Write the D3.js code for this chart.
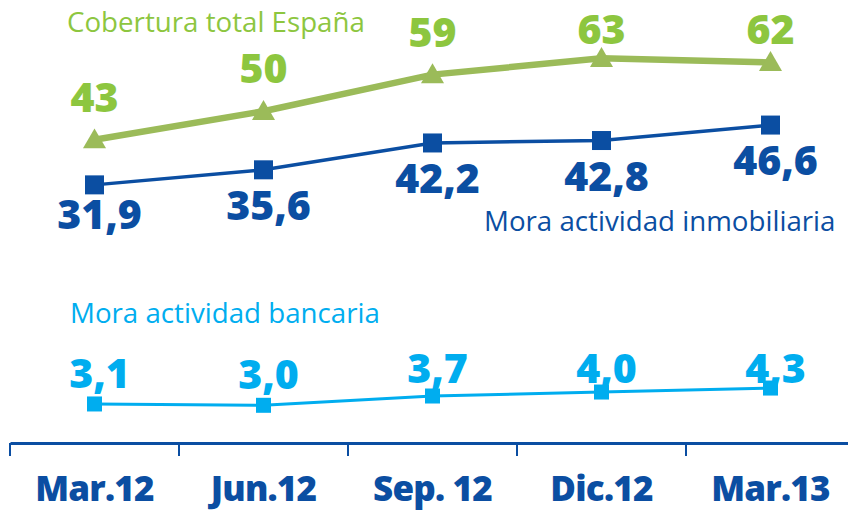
<!DOCTYPE html>
<html>
<head>
<meta charset="utf-8">
<script src="https://cdn.jsdelivr.net/npm/d3@7"></script>
<style>
  body { margin: 0; background: #fff; }
  svg text { font-family: "Open Sans", "Noto Sans", sans-serif; }
</style>
</head>
<body>
<svg id="chart" width="848" height="510"></svg>
<script>
const periods = ["Mar.12", "Jun.12", "Sep. 12", "Dic.12", "Mar.13"];
const cobertura = [43, 50, 59, 63, 62];
const moraInmob = [31.9, 35.6, 42.2, 42.8, 46.6];
const moraBanc = [3.1, 3.0, 3.7, 4.0, 4.3];

const GREEN_LINE = "#9bbb59";
const GREEN_TEXT = "#8dc63f";
const DARK_BLUE = "#0b4ea2";
const LIGHT_BLUE = "#00adef";

const fmt = v => d3.format(".1f")(v).replace(".", ",");

const svg = d3.select("#chart");

const x = d3.scaleBand().domain(periods).range([10, 855]);
const cx = d => x(d) + x.bandwidth() / 2;

// top block: cobertura and mora inmobiliaria share one scale
const yTop = d3.scaleLinear().domain([30, 65]).range([192.6, 50.2]);
// bottom block: mora actividad bancaria
const yBot = d3.scaleLinear().domain([3, 4.5]).range([405.3, 385.4]);

// axis
const axisY = 443;
const axis = svg.append("g").attr("transform", `translate(0,${axisY})`)
  .call(d3.axisBottom(x).tickSize(0).tickFormat(""));
axis.select(".domain").attr("stroke", DARK_BLUE).attr("stroke-width", 3);
svg.append("g").selectAll("line")
  .data(periods)
  .join("line")
  .attr("x1", d => x(d)).attr("x2", d => x(d))
  .attr("y1", axisY).attr("y2", axisY + 13)
  .attr("stroke", DARK_BLUE).attr("stroke-width", 2);

svg.append("g").selectAll("text")
  .data(periods)
  .join("text")
  .attr("x", cx)
  .attr("y", 501)
  .attr("text-anchor", "middle")
  .attr("fill", DARK_BLUE)
  .attr("font-size", 35)
  .attr("font-weight", 800)
  .attr("letter-spacing", -0.8)
  .text(d => d);

const line = y => d3.line().x((d, i) => cx(periods[i])).y(d => y(d));

// cobertura total
svg.append("path").datum(cobertura)
  .attr("d", line(yTop))
  .attr("fill", "none").attr("stroke", GREEN_LINE).attr("stroke-width", 6.5);
svg.append("g").selectAll("path")
  .data(cobertura)
  .join("path")
  .attr("d", d3.symbol(d3.symbolTriangle, 230))
  .attr("transform", (d, i) => `translate(${cx(periods[i])},${yTop(d) + 2})`)
  .attr("fill", GREEN_LINE);
svg.append("g").selectAll("text")
  .data(cobertura)
  .join("text")
  .attr("x", (d, i) => cx(periods[i]))
  .attr("y", d => Math.max(yTop(d) - 28, 44))
  .attr("text-anchor", "middle")
  .attr("fill", GREEN_TEXT)
  .attr("font-size", 41)
  .attr("font-weight", 800)
  .text(d => d);

// mora actividad inmobiliaria
svg.append("path").datum(moraInmob)
  .attr("d", line(yTop))
  .attr("fill", "none").attr("stroke", DARK_BLUE).attr("stroke-width", 3.5);
svg.append("g").selectAll("rect")
  .data(moraInmob)
  .join("rect")
  .attr("x", (d, i) => cx(periods[i]) - 9.5)
  .attr("y", d => yTop(d) - 9.5)
  .attr("width", 19).attr("height", 19)
  .attr("fill", DARK_BLUE);
svg.append("g").selectAll("text")
  .data(moraInmob)
  .join("text")
  .attr("x", (d, i) => cx(periods[i]) + 5)
  .attr("y", d => Math.min(yTop(d) + 50, 229))
  .attr("text-anchor", "middle")
  .attr("fill", DARK_BLUE)
  .attr("font-size", 41)
  .attr("font-weight", 800)
  .text(fmt);

// mora actividad bancaria
svg.append("path").datum(moraBanc)
  .attr("d", line(yBot))
  .attr("fill", "none").attr("stroke", LIGHT_BLUE).attr("stroke-width", 3);
svg.append("g").selectAll("rect")
  .data(moraBanc)
  .join("rect")
  .attr("x", (d, i) => cx(periods[i]) - 7.5)
  .attr("y", d => yBot(d) - 7.5)
  .attr("width", 15).attr("height", 15)
  .attr("fill", LIGHT_BLUE);
svg.append("g").selectAll("text")
  .data(moraBanc)
  .join("text")
  .attr("x", (d, i) => cx(periods[i]) + 5)
  .attr("y", d => Math.max(yBot(d) - 16, 383))
  .attr("text-anchor", "middle")
  .attr("fill", LIGHT_BLUE)
  .attr("font-size", 41)
  .attr("font-weight", 800)
  .text(fmt);

// series titles
const titles = [
  { text: "Cobertura total España", x: 67, y: 32, color: GREEN_TEXT },
  { text: "Mora actividad inmobiliaria", x: 484, y: 231, color: DARK_BLUE },
  { text: "Mora actividad bancaria", x: 70, y: 323, color: LIGHT_BLUE }
];
svg.append("g").selectAll("text")
  .data(titles)
  .join("text")
  .attr("x", d => d.x)
  .attr("y", d => d.y)
  .attr("fill", d => d.color)
  .attr("font-size", 27.7)
  .text(d => d.text);
</script>
</body>
</html>
